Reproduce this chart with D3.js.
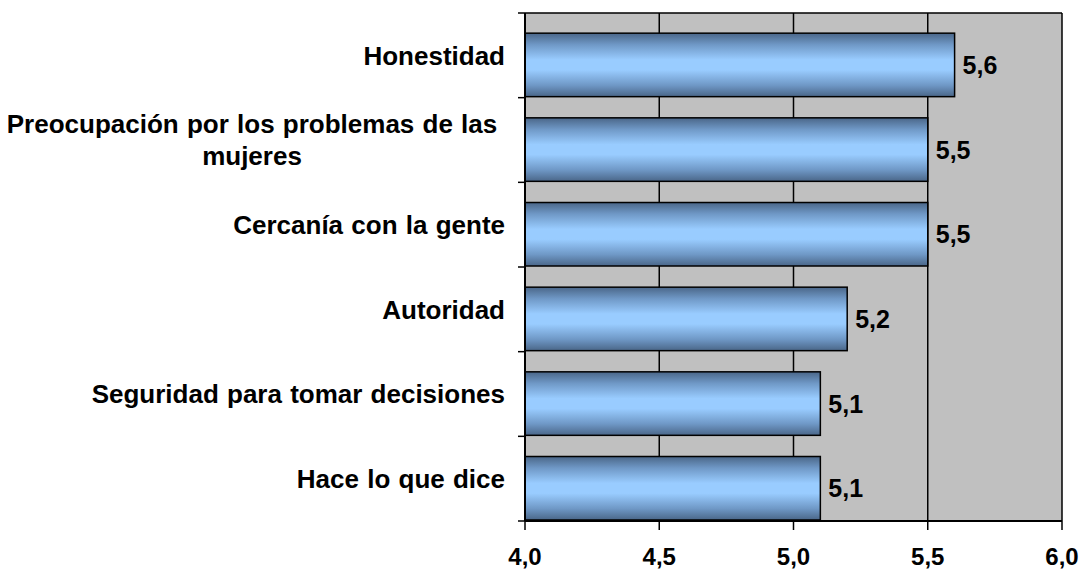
<!DOCTYPE html>
<html>
<head>
<meta charset="utf-8">
<script src="https://cdn.jsdelivr.net/npm/d3@7"></script>
<style>
  body { margin: 0; background: #fff; }
  svg text { font-family: Arial, "Liberation Sans", sans-serif; font-weight: bold; fill: #000; }
</style>
</head>
<body>
<div id="chart"></div>
<script>
// chart data
var categories = ['Honestidad', 'Preocupación por los problemas de las mujeres', 'Cercanía con la gente',
  'Autoridad', 'Seguridad para tomar decisiones', 'Hace lo que dice'];
var values = [5.6, 5.5, 5.5, 5.2, 5.1, 5.1];
var xTicks = [4.0, 4.5, 5.0, 5.5, 6.0];

var width = 1081, height = 569;
var margin = {top: 13, right: 19, bottom: 48, left: 525};
var plotW = width - margin.left - margin.right;
var plotH = height - margin.top - margin.bottom;

var fmt = function(v) { return d3.format('.1f')(v).replace('.', ','); };

var svg = d3.select('#chart').append('svg')
  .attr('width', width)
  .attr('height', height);

// bar gradient
var grad = svg.append('defs').append('linearGradient')
  .attr('id', 'barGrad')
  .attr('x1', 0).attr('y1', 0).attr('x2', 0).attr('y2', 1);
[[0, '#4a6688'], [0.18, '#6f98c6'], [0.42, '#99ccff'], [0.58, '#99ccff'], [0.82, '#6f98c6'], [1, '#4a6688']]
  .forEach(function(s) {
    grad.append('stop').attr('offset', s[0]).attr('stop-color', s[1]);
  });

var g = svg.append('g').attr('transform', 'translate(' + margin.left + ',' + margin.top + ')');

var x = d3.scaleLinear().domain([4, 6]).range([0, plotW]);
var y = d3.scaleBand().domain(categories).range([0, plotH]).paddingInner(0).paddingOuter(0);

// plot background
g.append('rect')
  .attr('width', plotW).attr('height', plotH)
  .attr('fill', '#c0c0c0');

// vertical gridlines
g.selectAll('.grid')
  .data(xTicks)
  .enter()
    .append('line')
    .attr('x1', function(d) { return x(d); })
    .attr('x2', function(d) { return x(d); })
    .attr('y1', 0).attr('y2', plotH)
    .attr('stroke', '#000').attr('stroke-width', 1.5);

// top border
g.append('line')
  .attr('x1', 0).attr('x2', plotW).attr('y1', 0).attr('y2', 0)
  .attr('stroke', '#000').attr('stroke-width', 1.5);

// bars (sit in lower part of each band)
var barH = y.bandwidth() * 0.75;
g.selectAll('.bar')
  .data(values)
  .enter()
    .append('rect')
    .attr('x', x(4))
    .attr('y', function(d, i) { return y(categories[i]) + y.bandwidth() - barH - 1; })
    .attr('width', function(d) { return x(d) - x(4); })
    .attr('height', barH)
    .attr('fill', 'url(#barGrad)')
    .attr('stroke', '#000').attr('stroke-width', 1.5);

// value labels
g.selectAll('.val')
  .data(values)
  .enter()
    .append('text')
    .attr('x', function(d) { return x(d) + 8; })
    .attr('y', function(d, i) { return y(categories[i]) + y.bandwidth() - barH / 2 - 1; })
    .attr('dy', '0.36em')
    .style('font-size', '25px')
    .text(function(d) { return fmt(d); });

// y axis
var yAxis = g.append('g');
yAxis.append('line')
  .attr('x1', 0).attr('x2', 0).attr('y1', 0).attr('y2', plotH)
  .attr('stroke', '#000').attr('stroke-width', 2);
yAxis.selectAll('.ytick')
  .data(d3.range(categories.length + 1))
  .enter()
    .append('line')
    .attr('x1', -7).attr('x2', 0)
    .attr('y1', function(i) { return i * y.bandwidth(); })
    .attr('y2', function(i) { return i * y.bandwidth(); })
    .attr('stroke', '#000').attr('stroke-width', 1.5);

// category labels: single lines right-aligned, wrapped lines centred
var maxLabelW = 505, lineH = 32, wrapCenter = 252 - margin.left;
categories.forEach(function(cat) {
  var t = g.append('text').style('font-size', '26px').style('word-spacing', '1px');
  var words = cat.split(' '), lines = [], cur = '';
  words.forEach(function(w) {
    var test = cur ? cur + ' ' + w : w;
    t.text(test);
    if (t.node().getComputedTextLength() > maxLabelW && cur) {
      lines.push(cur);
      cur = w;
    } else {
      cur = test;
    }
  });
  lines.push(cur);
  var multi = lines.length > 1;
  t.attr('text-anchor', multi ? 'middle' : 'end');
  var cx = multi ? wrapCenter : -20;
  var cy = y(cat) + y.bandwidth() / 2 - (lines.length - 1) * lineH / 2;
  t.text(null);
  lines.forEach(function(l, i) {
    t.append('tspan')
      .attr('x', cx)
      .attr('y', cy + i * lineH)
      .attr('dy', '0.36em')
      .text(l);
  });
});

// x axis
var xAxis = g.append('g').attr('transform', 'translate(0,' + plotH + ')');
xAxis.append('line')
  .attr('x1', 0).attr('x2', plotW)
  .attr('stroke', '#000').attr('stroke-width', 2);
xAxis.selectAll('.xtick')
  .data(xTicks)
  .enter()
    .append('line')
    .attr('x1', function(d) { return x(d); })
    .attr('x2', function(d) { return x(d); })
    .attr('y1', 0).attr('y2', 9)
    .attr('stroke', '#000').attr('stroke-width', 1.5);
xAxis.selectAll('.xlab')
  .data(xTicks)
  .enter()
    .append('text')
    .attr('x', function(d) { return x(d); })
    .attr('y', 44)
    .attr('text-anchor', 'middle')
    .style('font-size', '24px')
    .text(function(d) { return fmt(d); });
</script>
</body>
</html>
